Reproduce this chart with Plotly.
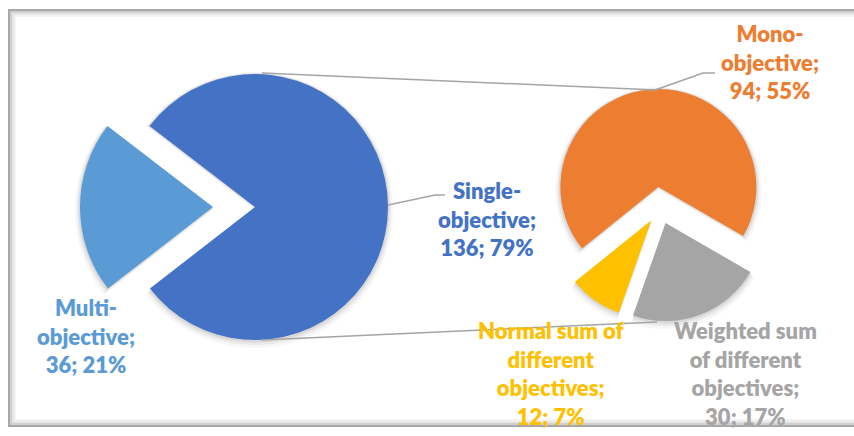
import plotly.graph_objects as go

W, H = 854, 436

# ---- data ----
main_labels = ["Multi-objective", "Single-objective"]
main_values = [36, 136]
main_colors = ["#5B9BD5", "#4472C4"]

sub_labels = ["Weighted sum of different objectives",
              "Normal sum of different objectives",
              "Mono-objective"]
sub_values = [30, 12, 94]
sub_colors = ["#A5A5A5", "#FFC000", "#ED7D31"]

# display names (with line breaks) for the data labels
main_names = ["Multi-<br>objective", "Single-<br>objective"]
sub_names = ["Weighted sum<br>of different<br>objectives",
             "Normal sum of<br>different<br>objectives",
             "Mono-<br>objective"]

total = sum(main_values)

# ---- layout geometry (pixels) ----
L_cx, L_cy, L_r = 255, 207, 133
L_pull = [0.316, 0.0]
L_rot = 232.2
R_cx, R_cy, R_r = 660, 208, 98
R_pull = [0.163, 0.153, 0.214]
R_rot = 120


def domain(cx, cy, r, pulls):
    s = 2 * r * (1 + max(pulls))
    return dict(x=[(cx - s / 2) / W, (cx + s / 2) / W],
                y=[1 - (cy + s / 2) / H, 1 - (cy - s / 2) / H])


fig = go.Figure()

# soft shadows behind the slices
for grow, dy, alpha in [(5, 3, 0.035), (3, 2, 0.05), (1.5, 1, 0.07)]:
    for labs, vals, cx, cy, r, pulls, rot in [
            (main_labels, main_values, L_cx, L_cy, L_r, L_pull, L_rot),
            (sub_labels, sub_values, R_cx, R_cy, R_r, R_pull, R_rot)]:
        rr = r + grow
        fig.add_trace(go.Pie(
            labels=labs, values=vals, sort=False, direction="clockwise",
            rotation=rot, pull=[p * r / rr for p in pulls],
            marker=dict(colors=[f"rgba(0,0,0,{alpha})"] * len(vals),
                        line=dict(width=0)),
            textinfo="none", hoverinfo="skip",
            domain=domain(cx, cy + dy, rr, [p * r / rr for p in pulls]),
            showlegend=False))

fig.add_trace(go.Pie(
    labels=main_labels, values=main_values, sort=False,
    direction="clockwise", rotation=L_rot, pull=L_pull,
    marker=dict(colors=main_colors, line=dict(width=0)),
    textinfo="none", hoverinfo="label+value+percent",
    domain=domain(L_cx, L_cy, L_r, L_pull), showlegend=False))
fig.add_trace(go.Pie(
    labels=sub_labels, values=sub_values, sort=False,
    direction="clockwise", rotation=R_rot, pull=R_pull,
    marker=dict(colors=sub_colors, line=dict(width=0)),
    textinfo="none", hoverinfo="label+value",
    domain=domain(R_cx, R_cy, R_r, R_pull), showlegend=False))

shapes = []
# chart frame with inner shadow
for off, col in [(0, "#a8a8a8"), (2, "#d0d0d0"), (4, "#e6e6e6"), (6, "#f3f3f3")]:
    shapes.append(dict(type="rect", xref="x", yref="y",
                       x0=9 + off, y0=10 + off, x1=880, y1=426 - off,
                       line=dict(color=col, width=2), layer="below"))
# connector lines between the pies
line_col = "#A5A5A5"
shapes.append(dict(type="line", xref="x", yref="y", x0=262, y0=73, x1=657, y1=90,
                   line=dict(color=line_col, width=1.5)))
shapes.append(dict(type="line", xref="x", yref="y", x0=262, y0=340, x1=657, y1=322,
                   line=dict(color=line_col, width=1.5)))
# leader lines
shapes.append(dict(type="path", xref="x", yref="y",
                   path="M 388,205 L 435,195 L 445,195",
                   line=dict(color=line_col, width=1.5)))
shapes.append(dict(type="path", xref="x", yref="y",
                   path="M 655,90 L 703,73 L 715,73",
                   line=dict(color=line_col, width=1.5)))


def pct(v):
    return round(100 * v / total)


ann = []
label_pos = {
    "Multi-objective": (86, 336),
    "Single-objective": (487, 219),
    "Weighted sum of different objectives": (745, 373),
    "Normal sum of different objectives": (551, 373),
    "Mono-objective": (770, 62),
}
for labs, names, vals, cols in [(main_labels, main_names, main_values, main_colors),
                                (sub_labels, sub_names, sub_values, sub_colors)]:
    for lab, nm, v, c in zip(labs, names, vals, cols):
        x, y = label_pos[lab]
        ann.append(dict(x=x, y=y, xref="x", yref="y", showarrow=False,
                        text=f"{nm};<br>{v}; {pct(v)}%",
                        align="center", xanchor="center", yanchor="middle",
                        font=dict(family="Lato", size=22, color=c, weight=800)))

fig.update_layout(
    width=W, height=H, margin=dict(l=0, r=0, t=0, b=0),
    paper_bgcolor="white", plot_bgcolor="white",
    xaxis=dict(range=[0, W], visible=False, fixedrange=True),
    yaxis=dict(range=[H, 0], visible=False, fixedrange=True),
    shapes=shapes, annotations=ann, showlegend=False,
)

fig.write_html("out.html")
